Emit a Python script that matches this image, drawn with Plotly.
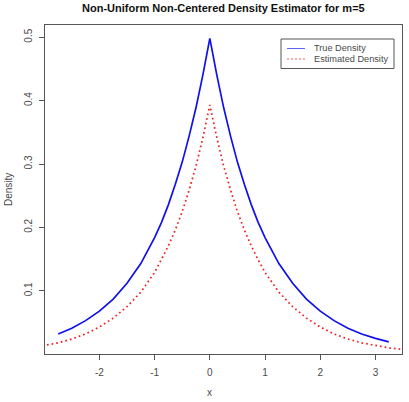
import plotly.graph_objects as go

# ---- data ----
true_x = [-2.745, -2.5, -2.25, -2.0, -1.75, -1.5, -1.25, -1.0, -0.875, -0.75, -0.625, -0.5,
          -0.375, -0.25, -0.125, 0.0, 0.125, 0.25, 0.375, 0.5, 0.625, 0.75, 0.875, 1.0,
          1.25, 1.5, 1.75, 2.0, 2.25, 2.5, 2.75, 3.0, 3.24]
true_y = [0.032, 0.041, 0.053, 0.068, 0.087, 0.112, 0.143, 0.184, 0.208, 0.236, 0.268, 0.303,
          0.344, 0.389, 0.441, 0.498, 0.441, 0.389, 0.344, 0.303, 0.268, 0.236, 0.208, 0.184,
          0.143, 0.112, 0.087, 0.068, 0.053, 0.041, 0.032, 0.025, 0.0196]

est_x = [-3.2, -3.0, -2.75, -2.5, -2.25, -2.0, -1.75, -1.5, -1.25, -1.0, -0.875, -0.75, -0.625,
         -0.5, -0.375, -0.25, -0.125, 0.0, 0.125, 0.25, 0.375, 0.5, 0.625, 0.75, 0.875, 1.0,
         1.25, 1.5, 1.75, 2.0, 2.25, 2.5, 2.75, 3.0, 3.25, 3.5, 3.6]
est_y = [0.0105, 0.0135, 0.018, 0.024, 0.032, 0.043, 0.057, 0.075, 0.098, 0.129, 0.149, 0.171,
         0.196, 0.225, 0.259, 0.297, 0.342, 0.393, 0.342, 0.297, 0.259, 0.225, 0.196, 0.171,
         0.149, 0.129, 0.098, 0.075, 0.057, 0.043, 0.032, 0.024, 0.018, 0.0135, 0.0100, 0.0075,
         0.0068]

x_ticks = [-2, -1, 0, 1, 2, 3]
y_ticks = [0.1, 0.2, 0.3, 0.4, 0.5]
title_text = "Non-Uniform Non-Centered Density Estimator for m=5"
legend_labels = ["True Density", "Estimated Density"]

W, H = 409, 402
L, R, T, B = 45, 402, 25, 354
FONT = "Liberation Sans, Arial, sans-serif"
AX = "#555555"
TXT = "#4a4a4a"


def px(x):
    return (x - L) / (R - L)


def py(y):
    return (B - y) / (B - T)


fig = go.Figure()
fig.add_trace(go.Scatter(x=true_x, y=true_y, mode="lines",
                         line=dict(color="#1010ee", width=1.7), showlegend=False))
fig.add_trace(go.Scatter(x=est_x, y=est_y, mode="lines",
                         line=dict(color="#ee2020", width=1.7, dash="1.7px,3px"), showlegend=False))

shapes = [
    dict(type="rect", xref="paper", yref="paper", x0=px(281), x1=px(394), y0=py(68.5), y1=py(39),
         line=dict(color=AX, width=1), fillcolor="white", layer="below"),
    dict(type="line", xref="paper", yref="paper", x0=px(287), x1=px(305), y0=py(48.5), y1=py(48.5),
         line=dict(color="#6060ff", width=1)),
    dict(type="line", xref="paper", yref="paper", x0=px(287), x1=px(305), y0=py(59), y1=py(59),
         line=dict(color="#ff6060", width=1, dash="2px,2px")),
]
annotations = [
    dict(text=legend_labels[0], xref="paper", yref="paper", x=px(312), y=py(48.5),
         xanchor="left", yanchor="middle", showarrow=False, font=dict(size=9.2, color=TXT, family=FONT)),
    dict(text=legend_labels[1], xref="paper", yref="paper", x=px(312), y=py(59),
         xanchor="left", yanchor="middle", showarrow=False, font=dict(size=9.2, color=TXT, family=FONT)),
    dict(text="<b>" + title_text + "</b>", xref="paper", yref="paper", x=0.5, y=py(8),
         xanchor="center", yanchor="middle", showarrow=False, font=dict(size=11, color="#111", family=FONT)),
    dict(text="Density", xref="paper", yref="paper", x=px(8), y=py(190), textangle=-90,
         xanchor="center", yanchor="middle", showarrow=False, font=dict(size=10, color=TXT, family=FONT)),
    dict(text="x", xref="paper", yref="paper", x=px(209.5), y=py(392),
         xanchor="center", yanchor="middle", showarrow=False, font=dict(size=10, color=TXT, family=FONT)),
]

fig.update_layout(
    width=W, height=H,
    margin=dict(l=L, r=W - R, t=T, b=H - B, pad=0),
    paper_bgcolor="white", plot_bgcolor="white",
    shapes=shapes, annotations=annotations,
    showlegend=False,
    font=dict(family=FONT, size=10, color=TXT),
    xaxis=dict(range=[-2.985, 3.48], tickvals=x_ticks, ticktext=[str(v) for v in x_ticks],
               showgrid=False, zeroline=False, showline=True, mirror=True, linecolor=AX, linewidth=1,
               ticks="outside", ticklen=5, tickcolor=AX, tickwidth=1, ticklabelstandoff=4),
    yaxis=dict(range=[0.0004, 0.5192], tickvals=y_ticks, ticktext=[str(v) for v in y_ticks],
               tickangle=-90,
               showgrid=False, zeroline=False, showline=True, mirror=True, linecolor=AX, linewidth=1,
               ticks="outside", ticklen=5, tickcolor=AX, tickwidth=1, ticklabelstandoff=3),
)

fig.write_html("out.html")
